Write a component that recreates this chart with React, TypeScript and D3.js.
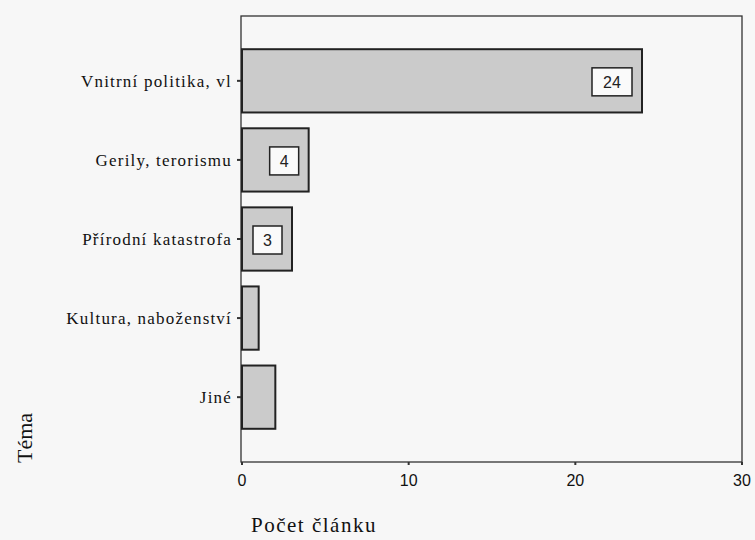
import React from "react";
import * as d3 from "d3";

const categories = [
  "Vnitrní politika, vl",
  "Gerily, terorismu",
  "Přírodní katastrofa",
  "Kultura, naboženství",
  "Jiné",
];
const values = [24, 4, 3, 1, 2];
const labelledValues = [24, 4, 3, null, null];
const xTicks = [0, 10, 20, 30];

const W = 755;
const H = 540;
const M = { left: 242, right: 742, top: 16, bottom: 462 };

export default function App() {
  const x = d3.scaleLinear().domain([0, 30]).range([M.left, M.right]);
  const y = d3
    .scaleBand<string>()
    .domain(categories)
    .range([M.top, M.bottom])
    .paddingInner(0.2)
    .paddingOuter(0.42);
  const serif = "'Liberation Serif', 'DejaVu Serif', serif";
  const sans = "'Liberation Sans', Arial, sans-serif";
  return (
    <svg
      width={W}
      height={H}
      style={{ position: "absolute", left: 0, top: 0 }}
    >
      <rect x={0} y={0} width={W} height={H} fill="#f7f7f7" />
      {/* plot frame */}
      <rect
        x={M.left - 1}
        y={M.top}
        width={M.right - M.left + 1}
        height={M.bottom - M.top}
        fill="none"
        stroke="#333"
        strokeWidth={1.3}
      />
      {/* bars */}
      {categories.map((c, i) => (
        <rect
          key={c}
          x={x(0)}
          y={y(c)!}
          width={x(values[i]) - x(0)}
          height={y.bandwidth()}
          fill="#cbcbcb"
          stroke="#222"
          strokeWidth={2}
        />
      ))}
      {/* value labels */}
      {categories.map((c, i) => {
        const v = labelledValues[i];
        if (v == null) return null;
        const txt = String(v);
        const bw = txt.length > 1 ? 40 : 29;
        const bh = 28;
        const right = x(values[i]) - 10;
        const cy = y(c)! + y.bandwidth() / 2 + 1;
        return (
          <g key={"l" + c}>
            <rect
              x={right - bw}
              y={cy - bh / 2}
              width={bw}
              height={bh}
              fill="#fafafa"
              stroke="#222"
              strokeWidth={1.5}
            />
            <text
              x={right - bw / 2}
              y={cy + 6}
              textAnchor="middle"
              fontFamily={sans}
              fontSize={16}
              fill="#222"
            >
              {txt}
            </text>
          </g>
        );
      })}
      {/* category labels and ticks */}
      {categories.map((c) => {
        const cy = y(c)! + y.bandwidth() / 2;
        return (
          <g key={"c" + c}>
            <line
              x1={M.left - 5}
              x2={M.left - 1}
              y1={cy}
              y2={cy}
              stroke="#333"
              strokeWidth={2}
            />
            <text
              x={M.left - 10}
              y={cy + 6}
              textAnchor="end"
              fontFamily={serif}
              fontSize={17}
              letterSpacing={1.2}
              fill="#111"
            >
              {c}
            </text>
          </g>
        );
      })}
      {/* x ticks */}
      {xTicks.map((t) => (
        <g key={"t" + t}>
          <line
            x1={x(t)}
            x2={x(t)}
            y1={M.bottom}
            y2={M.bottom + 3}
            stroke="#333"
            strokeWidth={2}
          />
          <text
            x={x(t)}
            y={M.bottom + 24}
            textAnchor="middle"
            fontFamily={sans}
            fontSize={16}
            fill="#111"
          >
            {t}
          </text>
        </g>
      ))}
      {/* axis titles */}
      <text
        x={314}
        y={532}
        textAnchor="middle"
        fontFamily={serif}
        fontSize={21}
        letterSpacing={1.5}
        fill="#111"
      >
        Počet článku
      </text>
      <text
        transform="translate(32,438) rotate(-90)"
        textAnchor="middle"
        fontFamily={serif}
        fontSize={22}
        fill="#111"
      >
        Téma
      </text>
    </svg>
  );
}
